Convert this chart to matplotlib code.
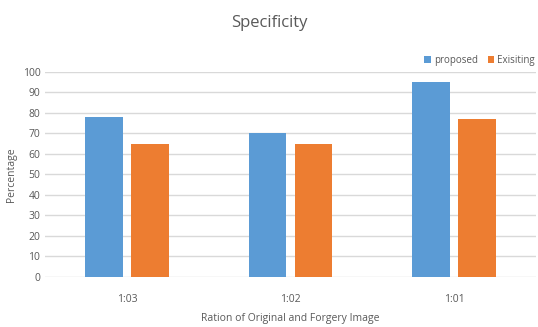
import matplotlib.pyplot as plt
import numpy as np

categories = ["1:03", "1:02", "1:01"]
proposed = [78, 70, 95]
existing = [65, 65, 77]

BLUE = "#5B9BD5"
ORANGE = "#ED7D31"
TEXT = "#595959"
GRID = "#D9D9D9"

plt.rcParams["font.family"] = ["Open Sans", "DejaVu Sans"]

fig = plt.figure(figsize=(5.38, 3.27), dpi=100)
ax = fig.add_axes([0.084, 0.153, 0.912, 0.627])

x = np.arange(len(categories))
w = 0.23
ax.bar(x - 0.14, proposed, w, color=BLUE, label="proposed", zorder=3)
ax.bar(x + 0.14, existing, w, color=ORANGE, label="Exisiting", zorder=3)

ax.set_xlim(-0.5, 2.5)
ax.set_ylim(0, 100)
ax.set_yticks(range(0, 101, 10))
ax.set_xticks(x)
ax.set_xticklabels(categories)
ax.yaxis.grid(True, color=GRID, linewidth=1, zorder=0)
for s in ax.spines.values():
    s.set_visible(False)
ax.tick_params(length=0, colors=TEXT, labelsize=7.5)
ax.tick_params(axis="x", pad=12)

ax.set_ylabel("Percentage", color=TEXT, fontsize=7.5)
ax.set_xlabel("Ration of Original and Forgery Image", color=TEXT, fontsize=7.5, labelpad=6)
fig.suptitle("Specificity", color=TEXT, fontsize=12, y=0.955)

ax.legend(loc="lower right", bbox_to_anchor=(1.01, 1.0), ncol=2, frameon=False,
          fontsize=7, labelcolor=TEXT, handlelength=0.7, handleheight=0.7,
          handletextpad=0.3, columnspacing=1.0, borderaxespad=0.2)

fig.savefig("out.png", dpi=100)
